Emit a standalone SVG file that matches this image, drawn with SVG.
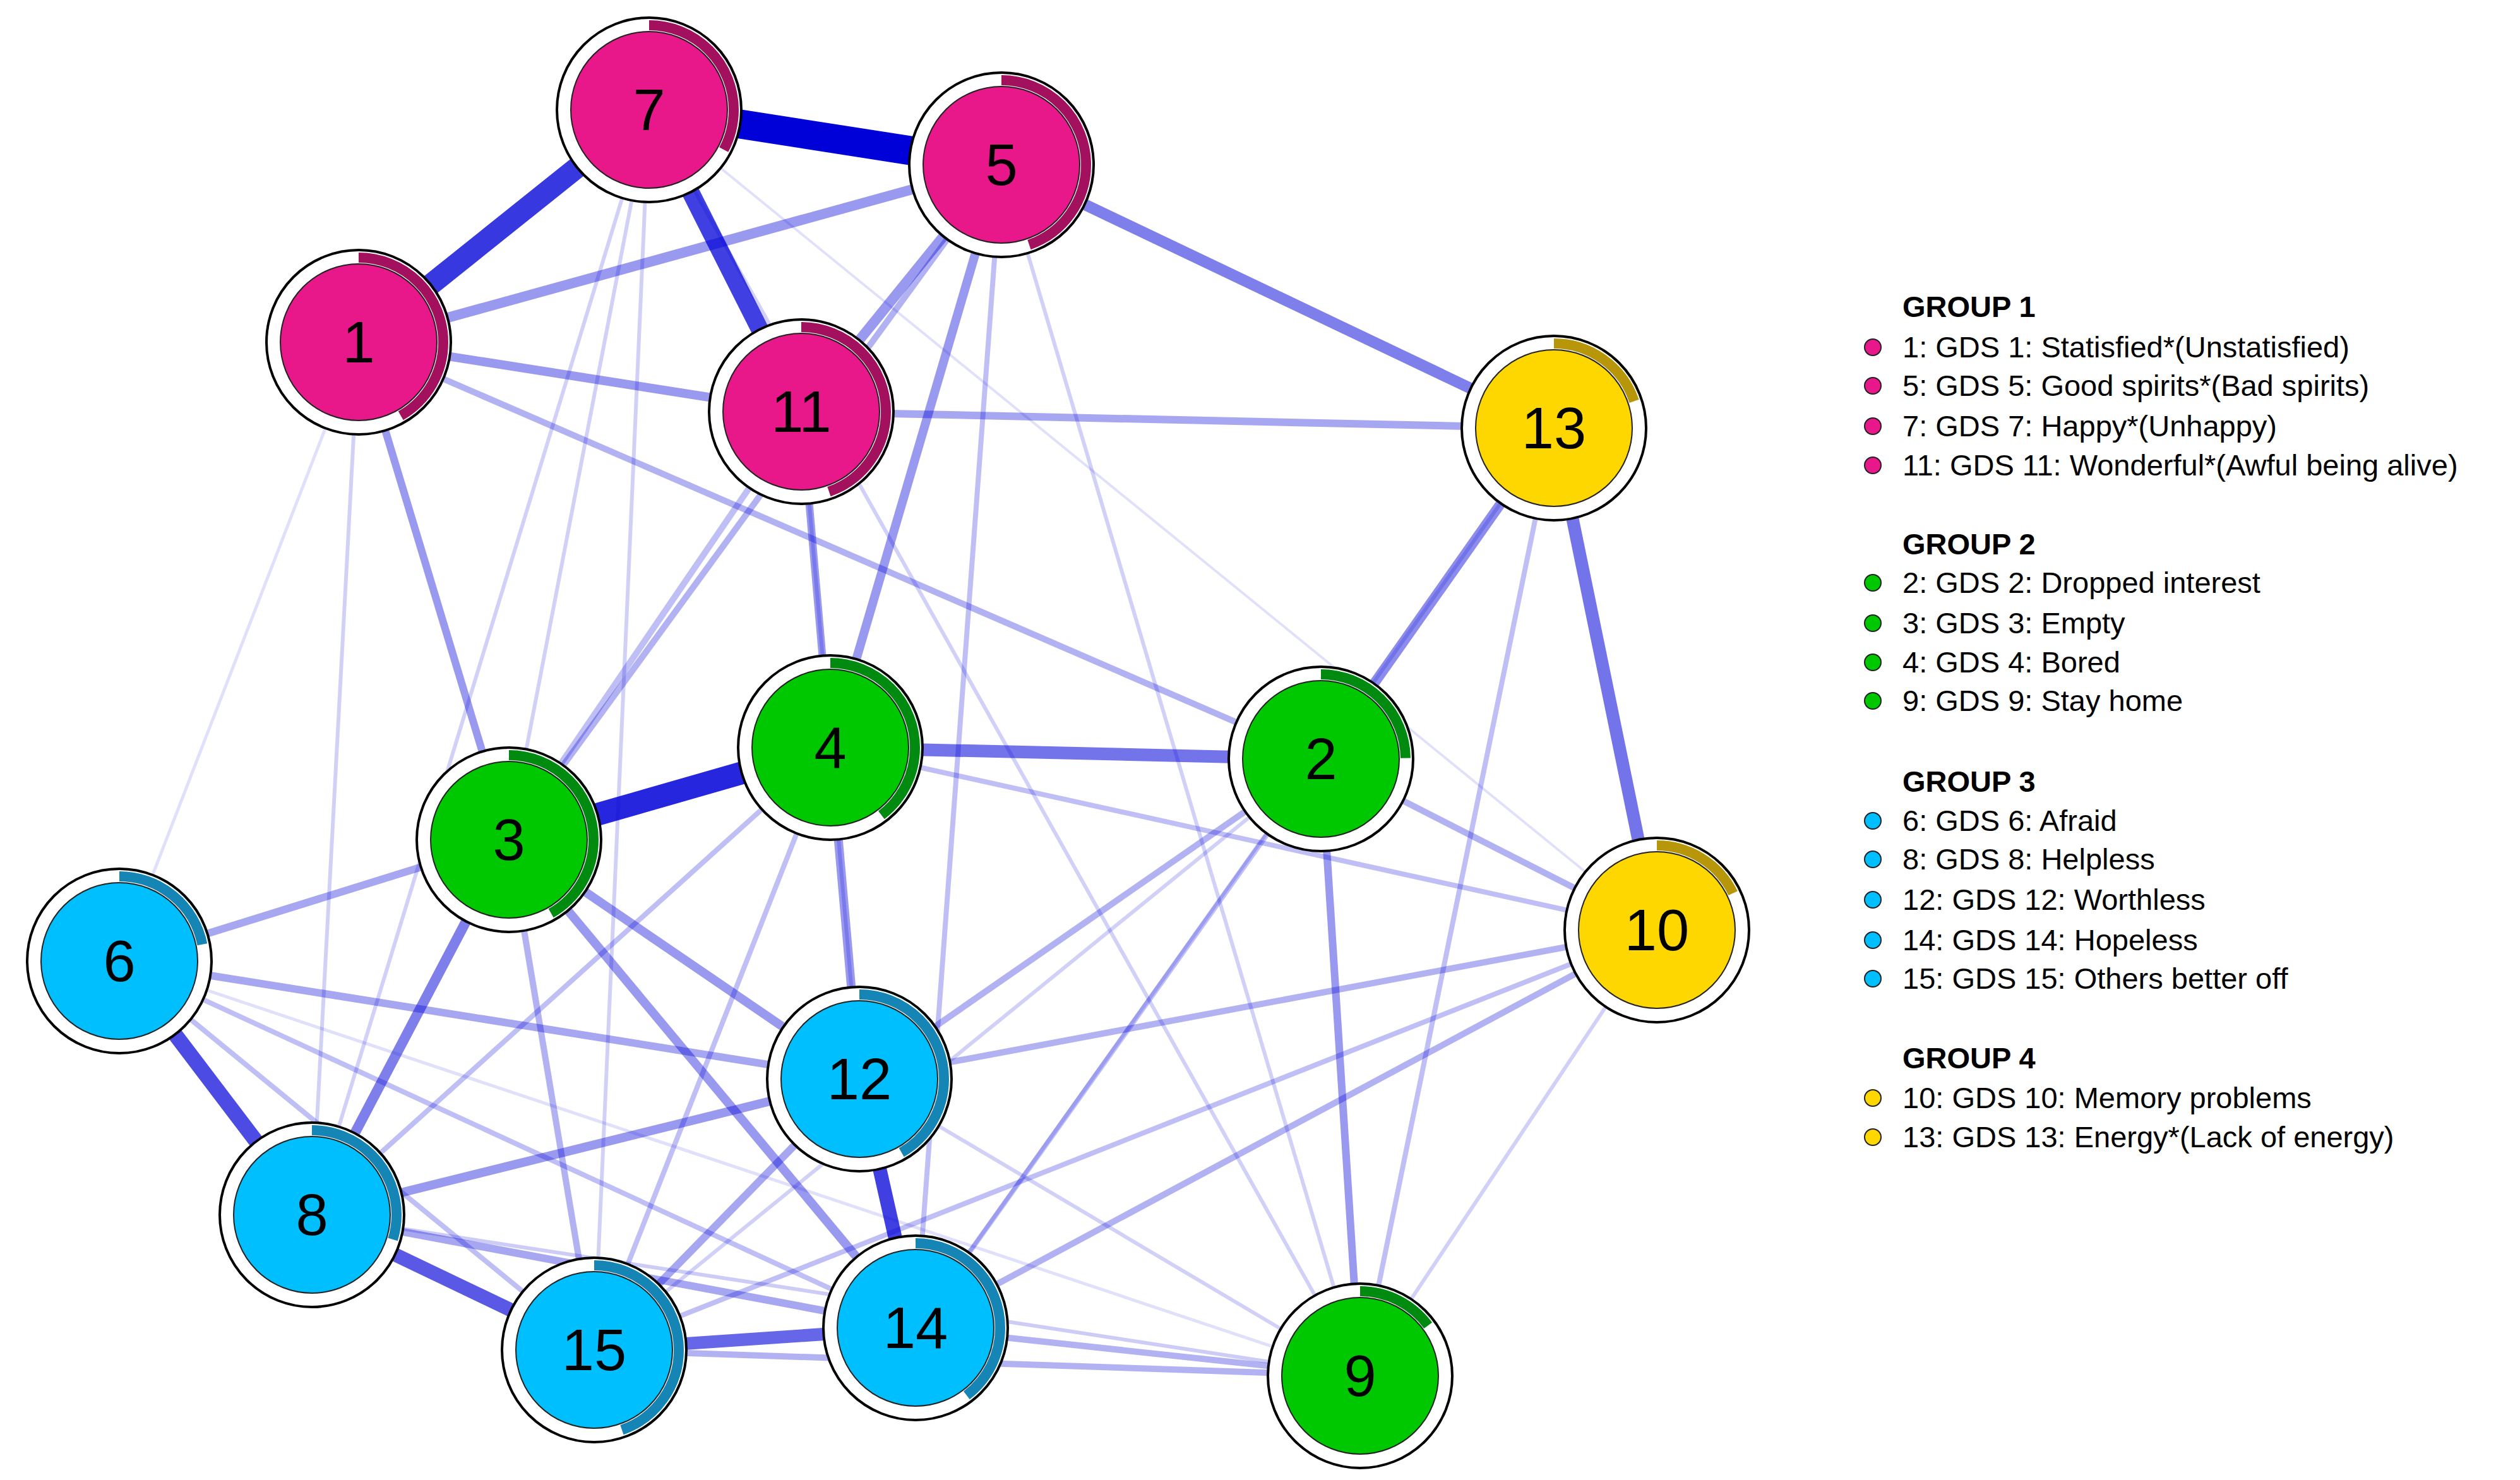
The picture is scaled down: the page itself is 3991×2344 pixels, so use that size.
<svg xmlns="http://www.w3.org/2000/svg" width="3991" height="2344" viewBox="0 0 3991 2344">
<style>
.e{stroke:#0000d8;stroke-linecap:butt;fill:none}
.o{fill:#fff;stroke:#000;stroke-width:4}
.i{stroke:#222;stroke-width:2}
.a{fill:none;stroke-width:16}
.n{font-family:Arial,"Liberation Sans",sans-serif;font-size:92px;text-anchor:middle;fill:#000}
.l{font-family:Arial,"Liberation Sans",sans-serif;font-size:47px;fill:#000}
.h{font-weight:bold}
.pk{fill:#e8178a}.gr{fill:#00c800}.bl{fill:#00bfff}.ye{fill:#ffd700}
.apk{stroke:#a3105e}.agr{stroke:#008a10}.abl{stroke:#1585b5}.aye{stroke:#b8960a}
</style>
<rect width="3991" height="2344" fill="#fff"/>
<g id="edges">
<line class="e" x1="189" y1="1522" x2="2154" y2="2179" stroke-width="5" stroke-opacity="0.12"/>
<line class="e" x1="1028" y1="174" x2="2624" y2="1473" stroke-width="4" stroke-opacity="0.12"/>
<line class="e" x1="568" y1="542" x2="189" y2="1522" stroke-width="5" stroke-opacity="0.12"/>
<line class="e" x1="568" y1="542" x2="494" y2="1924" stroke-width="6" stroke-opacity="0.18"/>
<line class="e" x1="1028" y1="174" x2="494" y2="1924" stroke-width="6" stroke-opacity="0.18"/>
<line class="e" x1="1028" y1="174" x2="941" y2="2138" stroke-width="6" stroke-opacity="0.18"/>
<line class="e" x1="1028" y1="174" x2="2154" y2="2179" stroke-width="6" stroke-opacity="0.18"/>
<line class="e" x1="1586" y1="261" x2="2154" y2="2179" stroke-width="6" stroke-opacity="0.18"/>
<line class="e" x1="2624" y1="1473" x2="2154" y2="2179" stroke-width="6" stroke-opacity="0.18"/>
<line class="e" x1="2461" y1="678" x2="1450" y2="2103" stroke-width="6" stroke-opacity="0.18"/>
<line class="e" x1="1028" y1="174" x2="806" y2="1330" stroke-width="6" stroke-opacity="0.18"/>
<line class="e" x1="2092" y1="1202" x2="941" y2="2138" stroke-width="6" stroke-opacity="0.18"/>
<line class="e" x1="1361" y1="1709" x2="2154" y2="2179" stroke-width="6" stroke-opacity="0.18"/>
<line class="e" x1="494" y1="1924" x2="2154" y2="2179" stroke-width="6" stroke-opacity="0.2"/>
<line class="e" x1="1269" y1="652" x2="1361" y2="1709" stroke-width="6" stroke-opacity="0.2"/>
<line class="e" x1="189" y1="1522" x2="941" y2="2138" stroke-width="8" stroke-opacity="0.25"/>
<line class="e" x1="189" y1="1522" x2="1450" y2="2103" stroke-width="8" stroke-opacity="0.25"/>
<line class="e" x1="1315" y1="1184" x2="941" y2="2138" stroke-width="8" stroke-opacity="0.25"/>
<line class="e" x1="1315" y1="1184" x2="494" y2="1924" stroke-width="8" stroke-opacity="0.25"/>
<line class="e" x1="1586" y1="261" x2="1450" y2="2103" stroke-width="8" stroke-opacity="0.25"/>
<line class="e" x1="2461" y1="678" x2="2154" y2="2179" stroke-width="8" stroke-opacity="0.25"/>
<line class="e" x1="2624" y1="1473" x2="941" y2="2138" stroke-width="8" stroke-opacity="0.25"/>
<line class="e" x1="1315" y1="1184" x2="2624" y2="1473" stroke-width="8" stroke-opacity="0.25"/>
<line class="e" x1="2092" y1="1202" x2="1450" y2="2103" stroke-width="8" stroke-opacity="0.25"/>
<line class="e" x1="1269" y1="652" x2="806" y2="1330" stroke-width="10" stroke-opacity="0.25"/>
<line class="e" x1="1586" y1="261" x2="806" y2="1330" stroke-width="10" stroke-opacity="0.3"/>
<line class="e" x1="568" y1="542" x2="2092" y2="1202" stroke-width="10" stroke-opacity="0.3"/>
<line class="e" x1="2092" y1="1202" x2="2624" y2="1473" stroke-width="10" stroke-opacity="0.3"/>
<line class="e" x1="1450" y1="2103" x2="2154" y2="2179" stroke-width="10" stroke-opacity="0.3"/>
<line class="e" x1="941" y1="2138" x2="2154" y2="2179" stroke-width="10" stroke-opacity="0.3"/>
<line class="e" x1="1361" y1="1709" x2="2624" y2="1473" stroke-width="10" stroke-opacity="0.3"/>
<line class="e" x1="1450" y1="2103" x2="2624" y2="1473" stroke-width="10" stroke-opacity="0.3"/>
<line class="e" x1="2092" y1="1202" x2="1361" y2="1709" stroke-width="10" stroke-opacity="0.3"/>
<line class="e" x1="806" y1="1330" x2="941" y2="2138" stroke-width="10" stroke-opacity="0.3"/>
<line class="e" x1="189" y1="1522" x2="806" y2="1330" stroke-width="12" stroke-opacity="0.35"/>
<line class="e" x1="189" y1="1522" x2="1361" y2="1709" stroke-width="12" stroke-opacity="0.35"/>
<line class="e" x1="494" y1="1924" x2="1450" y2="2103" stroke-width="12" stroke-opacity="0.35"/>
<line class="e" x1="941" y1="2138" x2="1361" y2="1709" stroke-width="12" stroke-opacity="0.35"/>
<line class="e" x1="1269" y1="652" x2="2461" y2="678" stroke-width="12" stroke-opacity="0.35"/>
<line class="e" x1="1269" y1="652" x2="1315" y2="1184" stroke-width="12" stroke-opacity="0.4"/>
<line class="e" x1="568" y1="542" x2="806" y2="1330" stroke-width="12" stroke-opacity="0.4"/>
<line class="e" x1="2092" y1="1202" x2="2154" y2="2179" stroke-width="12" stroke-opacity="0.4"/>
<line class="e" x1="806" y1="1330" x2="1450" y2="2103" stroke-width="14" stroke-opacity="0.4"/>
<line class="e" x1="806" y1="1330" x2="1361" y2="1709" stroke-width="14" stroke-opacity="0.4"/>
<line class="e" x1="494" y1="1924" x2="1361" y2="1709" stroke-width="14" stroke-opacity="0.4"/>
<line class="e" x1="1315" y1="1184" x2="1361" y2="1709" stroke-width="14" stroke-opacity="0.4"/>
<line class="e" x1="568" y1="542" x2="1269" y2="652" stroke-width="14" stroke-opacity="0.4"/>
<line class="e" x1="1586" y1="261" x2="1315" y2="1184" stroke-width="14" stroke-opacity="0.4"/>
<line class="e" x1="568" y1="542" x2="1586" y2="261" stroke-width="16" stroke-opacity="0.4"/>
<line class="e" x1="1586" y1="261" x2="1269" y2="652" stroke-width="16" stroke-opacity="0.4"/>
<line class="e" x1="2461" y1="678" x2="2092" y2="1202" stroke-width="16" stroke-opacity="0.45"/>
<line class="e" x1="806" y1="1330" x2="494" y2="1924" stroke-width="16" stroke-opacity="0.5"/>
<line class="e" x1="1586" y1="261" x2="2461" y2="678" stroke-width="18" stroke-opacity="0.5"/>
<line class="e" x1="1315" y1="1184" x2="2092" y2="1202" stroke-width="20" stroke-opacity="0.55"/>
<line class="e" x1="2461" y1="678" x2="2624" y2="1473" stroke-width="20" stroke-opacity="0.55"/>
<line class="e" x1="941" y1="2138" x2="1450" y2="2103" stroke-width="20" stroke-opacity="0.6"/>
<line class="e" x1="494" y1="1924" x2="941" y2="2138" stroke-width="22" stroke-opacity="0.65"/>
<line class="e" x1="189" y1="1522" x2="494" y2="1924" stroke-width="24" stroke-opacity="0.7"/>
<line class="e" x1="1361" y1="1709" x2="1450" y2="2103" stroke-width="22" stroke-opacity="0.75"/>
<line class="e" x1="1028" y1="174" x2="1269" y2="652" stroke-width="28" stroke-opacity="0.75"/>
<line class="e" x1="1028" y1="174" x2="568" y2="542" stroke-width="34" stroke-opacity="0.78"/>
<line class="e" x1="806" y1="1330" x2="1315" y2="1184" stroke-width="36" stroke-opacity="0.85"/>
<line class="e" x1="1028" y1="174" x2="1586" y2="261" stroke-width="46" stroke-opacity="1"/>
</g>
<g id="n7" transform="translate(1028,174)"><circle class="o" r="146"/><circle class="a apk" r="134" stroke-dasharray="276 1000" transform="rotate(-90)"/><circle class="i pk" r="124"/><text class="n" y="32">7</text></g>
<g id="n5" transform="translate(1586,261)"><circle class="o" r="146"/><circle class="a apk" r="134" stroke-dasharray="376 1000" transform="rotate(-90)"/><circle class="i pk" r="124"/><text class="n" y="32">5</text></g>
<g id="n1" transform="translate(568,542)"><circle class="o" r="146"/><circle class="a apk" r="134" stroke-dasharray="351 1000" transform="rotate(-90)"/><circle class="i pk" r="124"/><text class="n" y="32">1</text></g>
<g id="n11" transform="translate(1269,652)"><circle class="o" r="146"/><circle class="a apk" r="134" stroke-dasharray="376 1000" transform="rotate(-90)"/><circle class="i pk" r="124"/><text class="n" y="32">11</text></g>
<g id="n13" transform="translate(2461,678)"><circle class="o" r="146"/><circle class="a aye" r="134" stroke-dasharray="167 1000" transform="rotate(-90)"/><circle class="i ye" r="124"/><text class="n" y="32">13</text></g>
<g id="n4" transform="translate(1315,1184)"><circle class="o" r="146"/><circle class="a agr" r="134" stroke-dasharray="334 1000" transform="rotate(-90)"/><circle class="i gr" r="124"/><text class="n" y="32">4</text></g>
<g id="n2" transform="translate(2092,1202)"><circle class="o" r="146"/><circle class="a agr" r="134" stroke-dasharray="209 1000" transform="rotate(-90)"/><circle class="i gr" r="124"/><text class="n" y="32">2</text></g>
<g id="n3" transform="translate(806,1330)"><circle class="o" r="146"/><circle class="a agr" r="134" stroke-dasharray="351 1000" transform="rotate(-90)"/><circle class="i gr" r="124"/><text class="n" y="32">3</text></g>
<g id="n10" transform="translate(2624,1473)"><circle class="o" r="146"/><circle class="a aye" r="134" stroke-dasharray="150 1000" transform="rotate(-90)"/><circle class="i ye" r="124"/><text class="n" y="32">10</text></g>
<g id="n6" transform="translate(189,1522)"><circle class="o" r="146"/><circle class="a abl" r="134" stroke-dasharray="184 1000" transform="rotate(-90)"/><circle class="i bl" r="124"/><text class="n" y="32">6</text></g>
<g id="n12" transform="translate(1361,1709)"><circle class="o" r="146"/><circle class="a abl" r="134" stroke-dasharray="351 1000" transform="rotate(-90)"/><circle class="i bl" r="124"/><text class="n" y="32">12</text></g>
<g id="n8" transform="translate(494,1924)"><circle class="o" r="146"/><circle class="a abl" r="134" stroke-dasharray="250 1000" transform="rotate(-90)"/><circle class="i bl" r="124"/><text class="n" y="32">8</text></g>
<g id="n15" transform="translate(941,2138)"><circle class="o" r="146"/><circle class="a abl" r="134" stroke-dasharray="376 1000" transform="rotate(-90)"/><circle class="i bl" r="124"/><text class="n" y="32">15</text></g>
<g id="n14" transform="translate(1450,2103)"><circle class="o" r="146"/><circle class="a abl" r="134" stroke-dasharray="334 1000" transform="rotate(-90)"/><circle class="i bl" r="124"/><text class="n" y="32">14</text></g>
<g id="n9" transform="translate(2154,2179)"><circle class="o" r="146"/><circle class="a agr" r="134" stroke-dasharray="125 1000" transform="rotate(-90)"/><circle class="i gr" r="124"/><text class="n" y="32">9</text></g>
<g id="legend">
<text class="l h" x="3013" y="502">GROUP 1</text>
<circle class="pk i" cx="2966" cy="550" r="13"/><text class="l" x="3013" y="566">1: GDS 1: Statisfied*(Unstatisfied)</text>
<circle class="pk i" cx="2966" cy="611" r="13"/><text class="l" x="3013" y="627">5: GDS 5: Good spirits*(Bad spirits)</text>
<circle class="pk i" cx="2966" cy="675" r="13"/><text class="l" x="3013" y="691">7: GDS 7: Happy*(Unhappy)</text>
<circle class="pk i" cx="2966" cy="737" r="13"/><text class="l" x="3013" y="753">11: GDS 11: Wonderful*(Awful being alive)</text>
<text class="l h" x="3013" y="878">GROUP 2</text>
<circle class="gr i" cx="2966" cy="923" r="13"/><text class="l" x="3013" y="939">2: GDS 2: Dropped interest</text>
<circle class="gr i" cx="2966" cy="987" r="13"/><text class="l" x="3013" y="1003">3: GDS 3: Empty</text>
<circle class="gr i" cx="2966" cy="1049" r="13"/><text class="l" x="3013" y="1065">4: GDS 4: Bored</text>
<circle class="gr i" cx="2966" cy="1110" r="13"/><text class="l" x="3013" y="1126">9: GDS 9: Stay home</text>
<text class="l h" x="3013" y="1254">GROUP 3</text>
<circle class="bl i" cx="2966" cy="1300" r="13"/><text class="l" x="3013" y="1316">6: GDS 6: Afraid</text>
<circle class="bl i" cx="2966" cy="1361" r="13"/><text class="l" x="3013" y="1377">8: GDS 8: Helpless</text>
<circle class="bl i" cx="2966" cy="1425" r="13"/><text class="l" x="3013" y="1441">12: GDS 12: Worthless</text>
<circle class="bl i" cx="2966" cy="1489" r="13"/><text class="l" x="3013" y="1505">14: GDS 14: Hopeless</text>
<circle class="bl i" cx="2966" cy="1550" r="13"/><text class="l" x="3013" y="1566">15: GDS 15: Others better off</text>
<text class="l h" x="3013" y="1692">GROUP 4</text>
<circle class="ye i" cx="2966" cy="1739" r="13"/><text class="l" x="3013" y="1755">10: GDS 10: Memory problems</text>
<circle class="ye i" cx="2966" cy="1801" r="13"/><text class="l" x="3013" y="1817">13: GDS 13: Energy*(Lack of energy)</text>
</g>
</svg>
